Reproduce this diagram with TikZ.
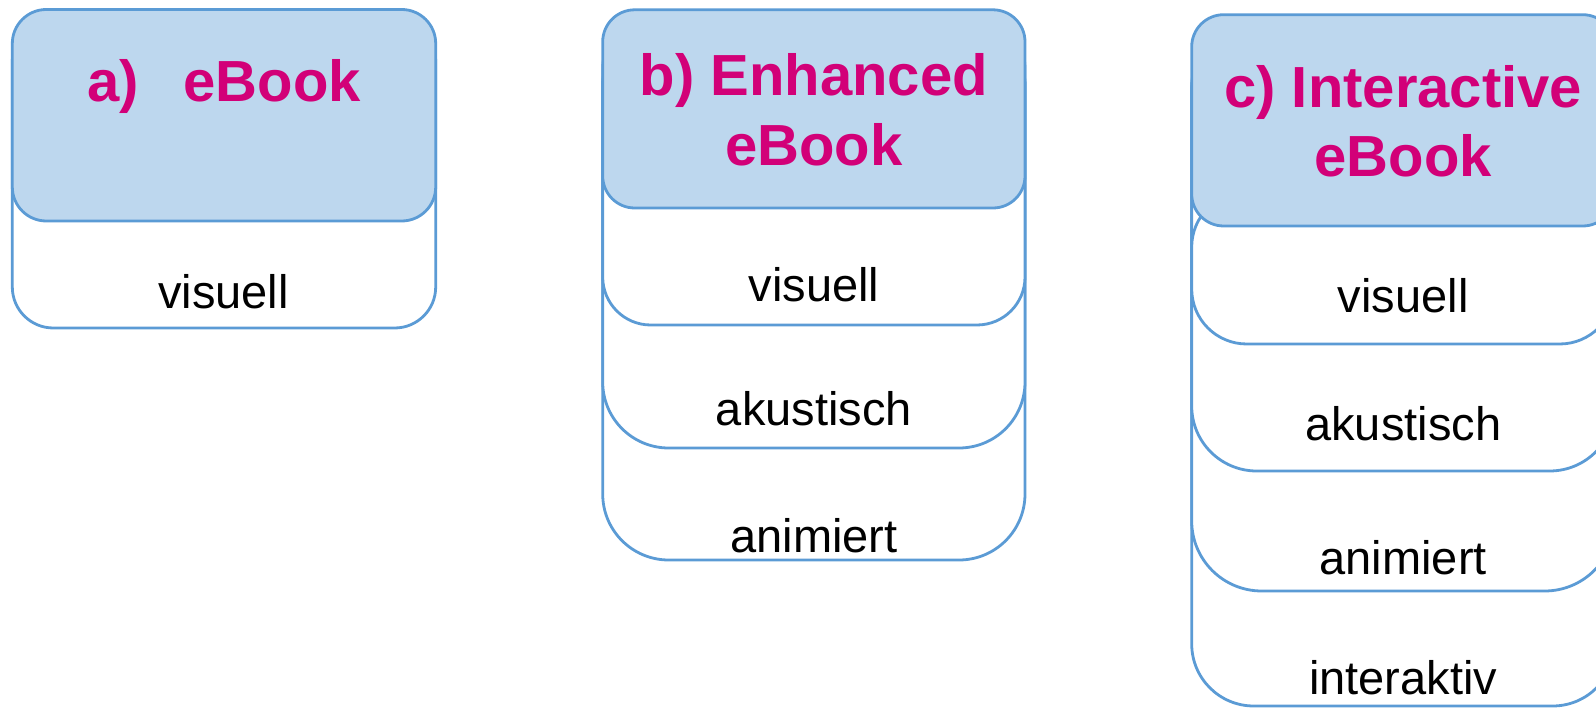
\documentclass[tikz,border=0pt]{standalone}
\usepackage{fontspec}
\setmainfont{Liberation Sans}
\definecolor{edgeblue}{RGB}{91,155,213}
\definecolor{headfill}{RGB}{189,215,238}
\definecolor{magenta}{RGB}{210,0,120}
\tikzset{
  layer/.style={draw=edgeblue, line width=2.8pt, fill=white},
  headbox/.style={draw=edgeblue, line width=2.8pt, fill=headfill},
  ttl/.style={anchor=base, text=magenta, font=\fontsize{58}{70}\selectfont\bfseries, inner sep=0pt},
  lbl/.style={anchor=base, text=black, font=\fontsize{47}{56}\selectfont, inner sep=0pt},
}
\begin{document}
\begin{tikzpicture}[x=1pt,y=-1pt]
\useasboundingbox (0,0) rectangle (1596,708);
\clip (0,0) rectangle (1596,708);

% ---- column a ----
\draw[layer, rounded corners=41pt] (12.3,20) rectangle (435.7,328);
\draw[headbox, rounded corners=34pt] (12.3,9.5) rectangle (435.7,221);
\node[ttl] (ta) at (224,102) {a)\hspace{45pt}eBook};
\node[lbl] (a1) at (223.5,309) {visuell};

% ---- column b ----
\draw[layer, rounded corners=66pt] (602.7,20) rectangle (1025,560);
\draw[layer, rounded corners=66pt] (602.7,20) rectangle (1025,448);
\draw[layer, rounded corners=48pt] (602.7,20) rectangle (1025,325);
\draw[headbox, rounded corners=32pt] (602.7,9.8) rectangle (1025,208);
\node[ttl] (tb1) at (813.9,96) {b) Enhanced};
\node[ttl] (tb2) at (813.9,166) {eBook};
\node[lbl] (b1) at (813.9,302) {visuell};
\node[lbl] (b2) at (813.9,426) {akustisch};
\node[lbl] (b3) at (813.9,552) {animiert};

% ---- column c ----
\draw[layer, rounded corners=62pt] (1191.7,25) rectangle (1614.7,706);
\draw[layer, rounded corners=70pt] (1191.7,25) rectangle (1614.7,591);
\draw[layer, rounded corners=65pt] (1191.7,25) rectangle (1614.7,471);
\draw[layer, rounded corners=55pt] (1191.7,192) rectangle (1614.7,344);
\draw[headbox, rounded corners=32pt] (1191.7,14.7) rectangle (1614.7,226);
\node[ttl] (tc1) at (1403.2,108) {c) Interactive};
\node[ttl] (tc2) at (1403.2,177) {eBook};
\node[lbl] (c1) at (1403.2,313) {visuell};
\node[lbl] (c2) at (1403.2,441) {akustisch};
\node[lbl] (c3) at (1403.2,574) {animiert};
\node[lbl] (c4) at (1403.2,694) {interaktiv};
\end{tikzpicture}
\end{document}
